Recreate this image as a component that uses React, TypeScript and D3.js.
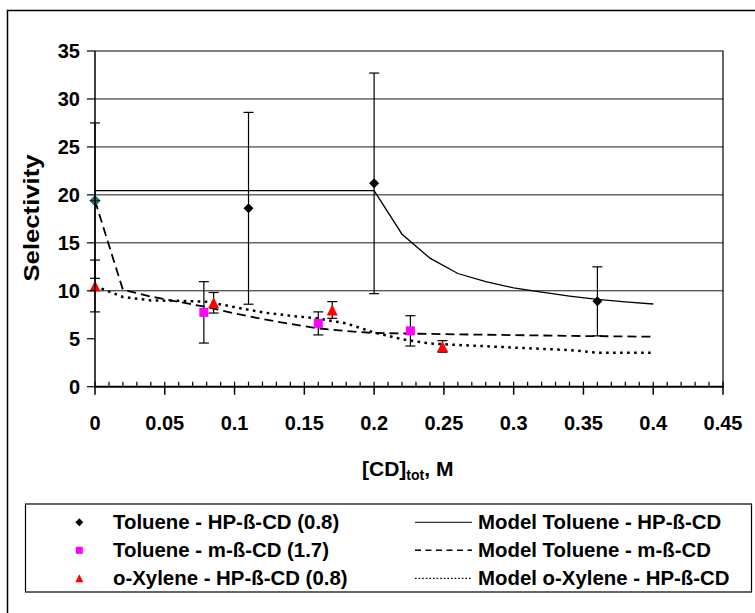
import React from "react";
import * as d3 from "d3";

// Measured selectivity, Toluene with HP-ß-CD (0.8)
const toluHpX = [0, 0.11, 0.2, 0.36];
const toluHpY = [19.4, 18.6, 21.2, 8.9];
const toluHpErr = [8.1, 10.0, 11.5, 3.6];

// Measured selectivity, Toluene with m-ß-CD (1.7)
const toluMX = [0.078, 0.16, 0.226];
const toluMY = [7.75, 6.6, 5.82];
const toluMErr = [3.2, 1.2, 1.58];

// Measured selectivity, o-Xylene with HP-ß-CD (0.8)
const xylX = [0, 0.085, 0.17, 0.249];
const xylY = [10.5, 8.75, 8.0, 4.2];
const xylErr = [2.7, 1.07, 0.87, 0.6];

// Model curves
const modelToluHpX = [0, 0.2, 0.22, 0.24, 0.26, 0.28, 0.3, 0.32, 0.34, 0.36, 0.38, 0.4];
const modelToluHpY = [20.45, 20.45, 15.9, 13.4, 11.8, 10.95, 10.3, 9.85, 9.45, 9.1, 8.85, 8.62];

const modelX = [0, 0.02, 0.04, 0.06, 0.08, 0.1, 0.12, 0.14, 0.16, 0.18, 0.2, 0.22, 0.24, 0.26, 0.28, 0.3, 0.32, 0.34, 0.36, 0.38, 0.4];
const modelToluMY = [19.4, 10.1, 9.4, 8.85, 8.3, 7.65, 7.05, 6.55, 6.08, 5.8, 5.6, 5.55, 5.5, 5.46, 5.42, 5.38, 5.34, 5.3, 5.27, 5.24, 5.21];
const modelXylY = [10.5, 9.35, 9.0, 8.95, 8.85, 8.3, 7.75, 7.4, 7.1, 6.6, 5.65, 4.95, 4.5, 4.35, 4.22, 4.08, 3.95, 3.82, 3.55, 3.55, 3.55];

// Axes
const xTicks = [0, 0.05, 0.1, 0.15, 0.2, 0.25, 0.3, 0.35, 0.4, 0.45];
const xTickLabels = ["0", "0.05", "0.1", "0.15", "0.2", "0.25", "0.3", "0.35", "0.4", "0.45"];
const xMinorTicks = d3.range(0, 46).map((i) => i / 100);
const yTicks = [0, 5, 10, 15, 20, 25, 30, 35];
const yTickLabels = ["0", "5", "10", "15", "20", "25", "30", "35"];
const yGrid = [10, 15, 20, 25, 30];

const legendLeft = ["Toluene - HP-ß-CD (0.8)", "Toluene - m-ß-CD (1.7)", "o-Xylene - HP-ß-CD (0.8)"];
const legendRight = ["Model Toluene - HP-ß-CD", "Model Toluene - m-ß-CD", "Model o-Xylene - HP-ß-CD"];

const FONT = "'Liberation Sans', Arial, Helvetica, sans-serif";

const W = 755;
const H = 613;
const L = 95;
const R = 723;
const T = 51;
const B = 386.7;

export default function App() {
  const x = d3.scaleLinear().domain([0, 0.45]).range([L, R]);
  const y = d3.scaleLinear().domain([0, 35]).range([B, T]);

  const line = (xs: number[], ys: number[]) =>
    d3.line<number>().x((_, i) => x(xs[i])).y((v) => y(v))(ys) || "";

  const diamond = (cx: number, cy: number, r: number) =>
    `M${cx},${cy - r}L${cx + r},${cy}L${cx},${cy + r}L${cx - r},${cy}Z`;
  const triangle = (cx: number, cy: number, s: number) =>
    `M${cx},${cy - s / 2}L${cx + s / 2},${cy + s / 2}L${cx - s / 2},${cy + s / 2}Z`;

  const errorBars = (xs: number[], ys: number[], es: number[], key: string) =>
    xs.map((xv, i) => {
      const px = x(xv);
      const top = y(ys[i] + es[i]);
      const bot = y(Math.max(0, ys[i] - es[i]));
      return (
        <g key={`${key}${i}`} stroke="#000" strokeWidth={1.2}>
          <line x1={px} x2={px} y1={top} y2={bot} />
          <line x1={px - 5} x2={px + 5} y1={top} y2={top} />
          <line x1={px - 5} x2={px + 5} y1={bot} y2={bot} />
        </g>
      );
    });

  return (
    <svg
      width={W}
      height={H}
      viewBox={`0 0 ${W} ${H}`}
      style={{ position: "absolute", left: 0, top: 0, background: "#fff" }}
      fontFamily={FONT}
    >
      <rect x={0} y={0} width={W} height={H} fill="#fff" />
      {/* chart frame */}
      <rect x={7.5} y={10.5} width={800} height={700} fill="none" stroke="#000" strokeWidth={1.5} />

      {/* gridlines */}
      {yGrid.map((v) => (
        <line key={`g${v}`} x1={L} x2={R} y1={y(v)} y2={y(v)} stroke="#1a1a1a" strokeWidth={1} />
      ))}
      {/* plot border */}
      <path d={`M${L},${T}H${R}V${B}`} fill="none" stroke="#000" strokeWidth={1.2} />

      {/* model curves */}
      <path d={line(modelToluHpX, modelToluHpY)} fill="none" stroke="#000" strokeWidth={1.3} />
      <path d={line(modelX, modelToluMY)} fill="none" stroke="#000" strokeWidth={1.8} strokeDasharray="9,5" />
      <path d={line(modelX, modelXylY)} fill="none" stroke="#000" strokeWidth={2.5} strokeDasharray="2.6,4.4" />

      {/* error bars */}
      {errorBars(toluHpX, toluHpY, toluHpErr, "eh")}
      {errorBars(toluMX, toluMY, toluMErr, "em")}
      {errorBars(xylX, xylY, xylErr, "ex")}

      {/* markers */}
      {toluHpX.map((xv, i) =>
        i === 0 ? (
          <g key={`dh${i}`}>
            <path d={diamond(x(xv), y(toluHpY[i]), 5)} fill="#1e7b7b" stroke="#0b3b3b" strokeWidth={1} />
            <line x1={x(xv) - 5} x2={x(xv) + 5} y1={y(toluHpY[i])} y2={y(toluHpY[i])} stroke="#0b2b2b" strokeWidth={1.2} />
            <line x1={x(xv)} x2={x(xv)} y1={y(toluHpY[i]) - 5} y2={y(toluHpY[i]) + 5} stroke="#0b2b2b" strokeWidth={1.2} />
          </g>
        ) : (
          <path key={`dh${i}`} d={diamond(x(xv), y(toluHpY[i]), 5)} fill="#000" />
        )
      )}
      {toluMX.map((xv, i) => (
        <rect key={`sm${i}`} x={x(xv) - 4.5} y={y(toluMY[i]) - 4.5} width={9} height={9} fill="#ff00ff" />
      ))}
      {xylX.map((xv, i) => (
        <path key={`tx${i}`} d={triangle(x(xv), y(xylY[i]), 11)} fill="#ff0000" />
      ))}

      {/* axes */}
      <line x1={L} x2={L} y1={T} y2={B} stroke="#000" strokeWidth={1.5} />
      <line x1={L} x2={R + 1} y1={B} y2={B} stroke="#000" strokeWidth={2} />
      {yTicks.map((v) => (
        <line key={`yt${v}`} x1={L - 8} x2={L} y1={y(v)} y2={y(v)} stroke="#000" strokeWidth={1.2} />
      ))}
      {xMinorTicks.map((v, i) => (
        <line key={`xm${i}`} x1={x(v)} x2={x(v)} y1={B - 5} y2={B} stroke="#000" strokeWidth={1.2} />
      ))}
      {xTicks.map((v) => (
        <line key={`xt${v}`} x1={x(v)} x2={x(v)} y1={B} y2={B + 8} stroke="#000" strokeWidth={1.5} />
      ))}

      {/* tick labels */}
      {yTicks.map((v, i) => (
        <text key={`yl${v}`} x={80} y={y(v) + 7} textAnchor="end" fontSize={20} fontWeight="bold">
          {yTickLabels[i]}
        </text>
      ))}
      {xTicks.map((v, i) => (
        <text key={`xl${v}`} x={x(v)} y={430} textAnchor="middle" fontSize={20} fontWeight="bold">
          {xTickLabels[i]}
        </text>
      ))}

      {/* axis titles */}
      <text
        transform="translate(39,218) rotate(-90)"
        textAnchor="middle"
        fontSize={22}
        fontWeight="bold"
        textLength={127}
        lengthAdjust="spacingAndGlyphs"
      >
        Selectivity
      </text>
      <text x={362} y={476} fontSize={21} fontWeight="bold">
        [CD]
        <tspan fontSize={14} dy={4}>tot</tspan>
        <tspan dy={-4}>, M</tspan>
      </text>

      {/* legend */}
      <rect x={25.5} y={504} width={726} height={88} fill="#fff" stroke="#000" strokeWidth={1.2} />
      {legendLeft.map((t, i) => {
        const cy = 522.3 + i * 28;
        return (
          <g key={`ll${i}`}>
            {i === 0 && <path d={diamond(79.3, cy, 4)} fill="#000" />}
            {i === 1 && <rect x={75.8} y={cy - 3.5} width={7} height={7} fill="#ff00ff" />}
            {i === 2 && <path d={triangle(79.3, cy, 8)} fill="#ff0000" />}
            <text x={113} y={cy + 6.5} fontSize={20.4} fontWeight="bold">
              {t}
            </text>
          </g>
        );
      })}
      {legendRight.map((t, i) => {
        const cy = 522.3 + i * 28;
        return (
          <g key={`lr${i}`}>
            <line
              x1={415}
              x2={472}
              y1={cy}
              y2={cy}
              stroke="#000"
              strokeWidth={i === 1 ? 1.6 : i === 2 ? 1.3 : 1}
              strokeDasharray={i === 1 ? "6,4.5" : i === 2 ? "1.6,2" : undefined}
            />
            <text x={478} y={cy + 6.5} fontSize={20.4} fontWeight="bold">
              {t}
            </text>
          </g>
        );
      })}
    </svg>
  );
}
